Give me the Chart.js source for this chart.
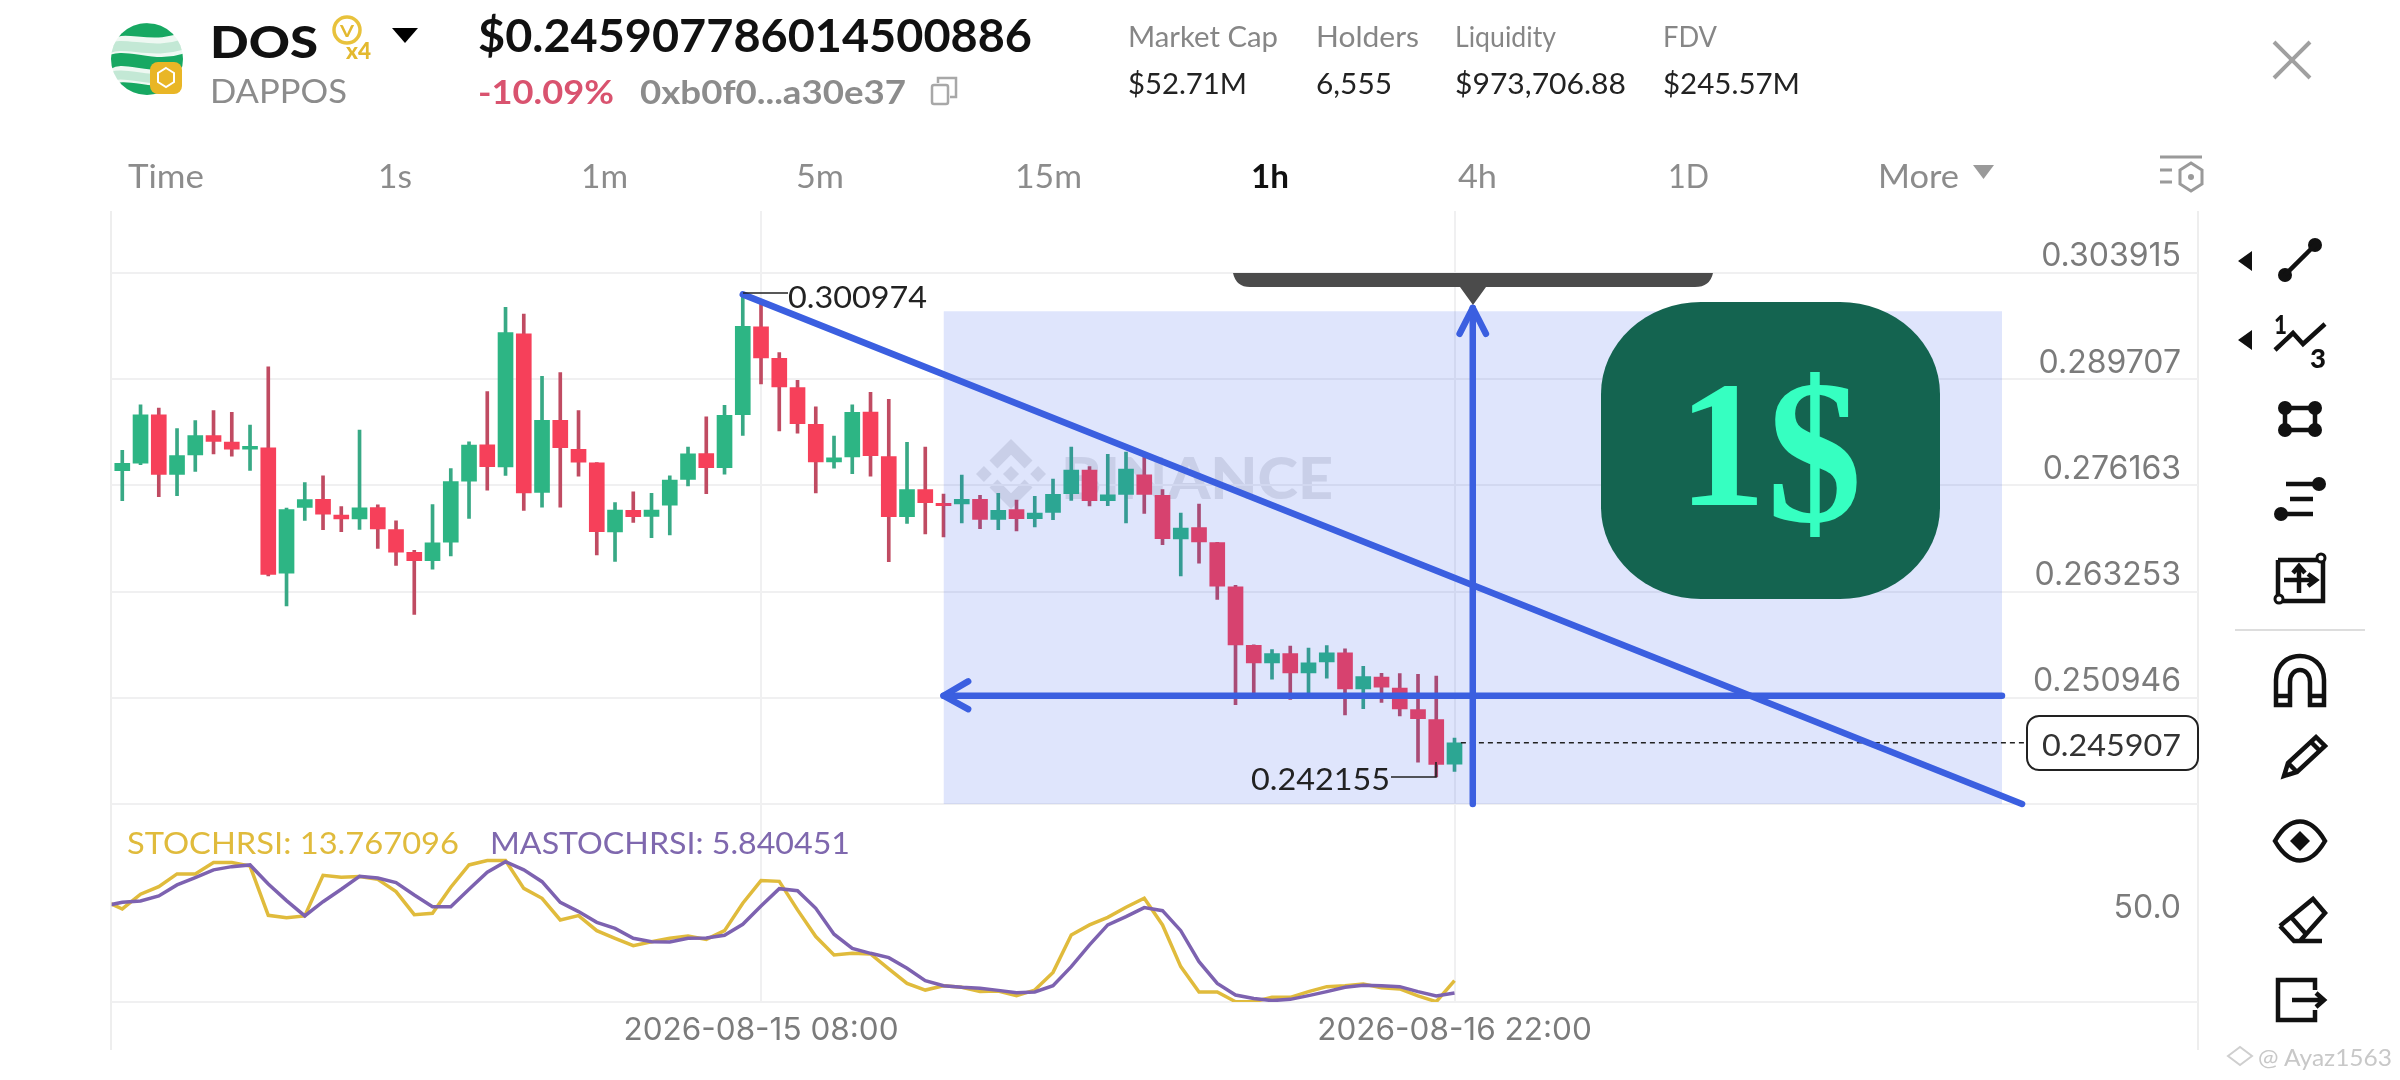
<!DOCTYPE html>
<html>
<head>
<meta charset="utf-8">
<script src="https://cdn.jsdelivr.net/npm/chart.js@4/dist/chart.umd.js"></script>
<style>
html,body{margin:0;padding:0;background:#fff;width:2400px;height:1080px;overflow:hidden}
#under,#over{position:absolute;left:0;top:0;width:2400px;height:1080px}
#under{z-index:0}#over{z-index:2}
#c{position:absolute;left:0;top:0;z-index:1}
text{font-family:Lato,"Open Sans",sans-serif}
</style>
</head>
<body>
<svg id="under" viewBox="0 0 2400 1080"></svg>
<canvas id="c" width="2400" height="1080"></canvas>
<svg id="over" viewBox="0 0 2400 1080"></svg>
<script>
const categories = [
"2026-08-13 21:00","2026-08-13 22:00","2026-08-13 23:00","2026-08-14 00:00","2026-08-14 01:00","2026-08-14 02:00","2026-08-14 03:00","2026-08-14 04:00","2026-08-14 05:00","2026-08-14 06:00",
"2026-08-14 07:00","2026-08-14 08:00","2026-08-14 09:00","2026-08-14 10:00","2026-08-14 11:00","2026-08-14 12:00","2026-08-14 13:00","2026-08-14 14:00","2026-08-14 15:00","2026-08-14 16:00",
"2026-08-14 17:00","2026-08-14 18:00","2026-08-14 19:00","2026-08-14 20:00","2026-08-14 21:00","2026-08-14 22:00","2026-08-14 23:00","2026-08-15 00:00","2026-08-15 01:00","2026-08-15 02:00",
"2026-08-15 03:00","2026-08-15 04:00","2026-08-15 05:00","2026-08-15 06:00","2026-08-15 07:00","2026-08-15 08:00","2026-08-15 09:00","2026-08-15 10:00","2026-08-15 11:00","2026-08-15 12:00",
"2026-08-15 13:00","2026-08-15 14:00","2026-08-15 15:00","2026-08-15 16:00","2026-08-15 17:00","2026-08-15 18:00","2026-08-15 19:00","2026-08-15 20:00","2026-08-15 21:00","2026-08-15 22:00",
"2026-08-15 23:00","2026-08-16 00:00","2026-08-16 01:00","2026-08-16 02:00","2026-08-16 03:00","2026-08-16 04:00","2026-08-16 05:00","2026-08-16 06:00","2026-08-16 07:00","2026-08-16 08:00",
"2026-08-16 09:00","2026-08-16 10:00","2026-08-16 11:00","2026-08-16 12:00","2026-08-16 13:00","2026-08-16 14:00","2026-08-16 15:00","2026-08-16 16:00","2026-08-16 17:00","2026-08-16 18:00",
"2026-08-16 19:00","2026-08-16 20:00","2026-08-16 21:00","2026-08-16 22:00"];

const opens = [.27799,.27892,.28508,.27752,.27998,.28241,.28160,.28071,.28088,.26544,
.27341,.27442,.27248,.27200,.27341,.27070,.26795,.26694,.26916,.27667,
.28126,.27846,.29568,.27527,.28436,.28066,.27896,.27042,.27305,.27232,
.27370,.27689,.28015,.27837,.28508,.29661,.29242,.28860,.28385,.27909,
.27973,.28542,.27977,.27228,.27564,.27394,.27386,.27442,.27195,.27317,
.27203,.27280,.27511,.27807,.27426,.27503,.27748,.27491,.26957,.27094,
.26912,.26382,.25696,.25492,.25600,.25376,.25504,.25608,.25195,.25330,
.25203,.24962,.24848,.24356];
const closes = [.27892,.28508,.27752,.27990,.28241,.28168,.28071,.28105,.26528,.27317,
.27438,.27260,.27200,.27337,.27078,.26795,.26694,.26908,.27663,.28122,
.27850,.29585,.27523,.28436,.28088,.27905,.27046,.27309,.27228,.27309,
.27680,.28011,.27837,.28500,.29666,.29247,.28869,.28393,.27909,.27960,
.28538,.27986,.27228,.27564,.27402,.27365,.27442,.27195,.27305,.27203,
.27272,.27503,.27807,.27426,.27499,.27820,.27503,.26961,.27090,.26920,
.26390,.25700,.25492,.25600,.25376,.25492,.25608,.25195,.25334,.25214,
.24970,.24859,.24352,.24591];
const highs = [.28054,.28635,.28593,.28330,.28432,.28563,.28538,.28376,.29131,.27333,
.27650,.27735,.27353,.28313,.27374,.27179,.26819,.27378,.27824,.28164,
.28809,.29924,.29830,.29006,.29055,.28563,.27901,.27402,.27535,.27515,
.27735,.28096,.28483,.28631,.300974,.30000,.29318,.28954,.28610,.28236,
.28635,.28797,.28708,.28156,.28096,.27507,.27744,.27491,.27515,.27434,
.27479,.27693,.28096,.27850,.28003,.28032,.27998,.27564,.27272,.27382,
.26916,.26398,.25700,.25646,.25685,.25662,.25693,.25654,.25453,.25372,
.25369,.25361,.25342,.24642];
const lows = [.27426,.27875,.27475,.27487,.27790,.28011,.27982,.27803,.26511,.26155,
.27183,.27070,.27046,.27074,.26843,.26637,.26055,.26592,.26750,.27208,
.27556,.27739,.27305,.27345,.27345,.27731,.26762,.26686,.27159,.26973,
.27005,.27608,.27511,.27756,.28245,.28907,.28300,.28274,.27523,.27829,
.27761,.27731,.26681,.27147,.27017,.26981,.27151,.27082,.27070,.27054,
.27102,.27191,.27430,.27361,.27365,.27151,.27268,.26888,.26511,.26665,
.26233,.25017,.25145,.25307,.25076,.25137,.25318,.24900,.24973,.25043,
.24889,.24378,.242155,.24275];
// first value of each oscillator belongs to the bar just left of the visible window
const stochRsi = [65.4,60.0,69.5,74.4,82.6,82.6,89.9,89.9,87.7,55.9,54.4,55.5,81.7,80.4,80.9,79.1,71.2,56.3,57.2,74.0,88.4,91.2,91.2,73.3,66.9,52.9,55.7,46.0,41.1,36.3,38.9,41.1,42.6,40.4,46.0,63.7,78.3,77.8,
59.4,42.2,30.3,31.4,31.0,21.3,12.0,7.7,10.5,9.5,6.7,7.1,4.1,7.7,19.1,43.2,49.7,54.6,61.1,66.9,49.7,22.8,6.5,6.5,0.2,0.2,3.0,3.0,6.7,9.9,10.5,11.6,9.2,8.4,3.9,0.2,13.767096];
const maStochRsi = [61.9,64.3,65.2,68.4,75.5,80.2,85.2,87.3,88.4,76.1,65.4,55.5,64.7,72.7,81.1,80.0,77.0,69.0,61.5,61.5,72.7,83.7,90.5,85.2,77.6,64.3,58.3,51.4,47.5,41.1,38.9,38.7,41.1,41.3,43.0,50.1,61.9,73.1,
71.8,60.4,43.7,34.6,31.4,28.6,21.7,13.8,10.5,9.5,8.8,7.5,6.0,6.5,10.5,22.8,36.8,49.7,55.1,60.9,58.9,46.0,26.0,12.0,4.5,2.2,0.9,1.7,4.1,6.7,9.5,10.8,10.5,9.9,6.7,3.9,5.840451];

const priceTicks = [.239215,.250946,.263253,.276163,.289707,.303915];
const priceTickLabels = ["","0.250946","0.263253","0.276163","0.289707","0.303915"];
const oscTicks = [0,50];
const oscTickLabels = ["","50.0"];
const timeTicks = [35,73];

// chart drawings, in bar-index / price coordinates
const lastPrice = .245907;
const trendX = [34,104.1], trendY = [.300974,.239215];
const levelX = [45,103], levelY = [.25118,.25118];
const riseX = [74,74], riseY = [.29915,.239215];
const zoneX = [45,103], zoneTop = [.2987,.2987], zoneBottom = .239215;
const levelHeadX = [46.35,45,46.35], levelHeadY = [.2528,.25118,.24966];
const riseHeadX = [73.28,74,74.72], riseHeadY = [.29568,.29915,.29568];
const lastX = [73.35,104.35];

const UP="#2db584", DOWN="#f6405a", UPW="#38a985", DOWNW="#c04b62", BLUE="#3b5fe0", GRID="#f0f0f1", AXTXT="#7b7b7b";
const upFlags = closes.map((c,i)=>c>=opens[i]);
const line = (xs,ys,extra)=>Object.assign({type:"line",data:xs.map((x,i)=>({x,y:ys[i]})),pointRadius:0,borderColor:BLUE,borderWidth:6.5,borderCapStyle:"round",borderJoinStyle:"round",tension:0,fill:false,clip:false,yAxisID:"y"},extra||{});

new Chart(document.getElementById("c"),{
  type:"bar",
  data:{labels:categories,datasets:[
    {label:"wick",data:highs.map((h,i)=>({x:i,y:[lows[i],h]})),backgroundColor:upFlags.map(u=>u?UPW:DOWNW),barThickness:3,grouped:false,order:20,yAxisID:"y"},
    {label:"body",data:opens.map((o,i)=>({x:i,y:[o,closes[i]]})),backgroundColor:upFlags.map(u=>u?UP:DOWN),barThickness:15,grouped:false,order:19,yAxisID:"y"},
    line(zoneX,zoneTop,{label:"zone",borderWidth:0,fill:{value:zoneBottom},backgroundColor:"rgba(42,82,235,0.15)",order:15}),
    line(lastX,[lastPrice,lastPrice],{label:"last",borderColor:"#222",borderWidth:1.5,borderDash:[5,4],borderCapStyle:"butt",order:12}),
    line(trendX,trendY,{label:"trend",order:10}),
    line(levelX,levelY,{label:"level",order:9}),
    line(riseX,riseY,{label:"rise",order:8,borderCapStyle:"butt"}),
    line(levelHeadX,levelHeadY,{label:"levelHead",order:7}),
    line(riseHeadX,riseHeadY,{label:"riseHead",order:6}),
    {type:"line",label:"STOCHRSI",data:stochRsi.map((v,i)=>({x:i-1,y:v})),borderColor:"#e0bb3c",borderWidth:3.5,pointRadius:0,tension:0,yAxisID:"y2",order:3},
    {type:"line",label:"MASTOCHRSI",data:maStochRsi.map((v,i)=>({x:i-1,y:v})),borderColor:"#7d62b0",borderWidth:3.5,pointRadius:0,tension:0,yAxisID:"y2",order:2}
  ]},
  options:{
    responsive:false,devicePixelRatio:1,animation:false,
    layout:{padding:{left:111.7,right:202,top:211,bottom:0}},
    plugins:{legend:{display:false},tooltip:{enabled:false}},
    scales:{
      x:{type:"linear",position:"bottom",min:-0.58,max:113.74,offset:false,bounds:"data",
        grid:{color:GRID,lineWidth:2,offset:false,drawTicks:false},border:{display:false},
        afterBuildTicks:s=>{s.ticks=timeTicks.map(v=>({value:v}))},
        afterFit:s=>{s.height=78},
        ticks:{autoSkip:false,maxRotation:0,padding:10,color:AXTXT,font:{family:"Inter",size:31.5},callback:v=>categories[v]}},
      y:{type:"logarithmic",position:"right",stack:"panes",stackWeight:593,weight:1,min:.239215,max:.3125,bounds:"data",
        grid:{color:GRID,lineWidth:2,drawTicks:false},border:{display:false},
        afterBuildTicks:s=>{s.ticks=priceTicks.map(v=>({value:v}))},
        afterFit:s=>{s.width=0},
        ticks:{autoSkip:false,mirror:true,padding:-17,labelOffset:-16,color:AXTXT,font:{family:"Inter",size:32},callback:v=>priceTickLabels[priceTicks.indexOf(v)]}},
      y2:{type:"linear",position:"right",stack:"panes",stackWeight:198,weight:2,min:0,max:127.7,bounds:"data",
        grid:{color:c=>c.tick&&c.tick.value===50?"rgba(0,0,0,0)":GRID,lineWidth:2,drawTicks:false},border:{display:false},
        afterBuildTicks:s=>{s.ticks=oscTicks.map(v=>({value:v}))},
        afterFit:s=>{s.width=0},
        ticks:{autoSkip:false,mirror:true,padding:-17,labelOffset:-16,color:AXTXT,font:{family:"Inter",size:32},callback:v=>oscTickLabels[oscTicks.indexOf(v)]}}
    }
  }
});

// interface chrome around the chart
function esc(s){return s.replace(/&/g,"&amp;").replace(/</g,"&lt;")}
function T(s,x,y,size,color,weight,w){return `<text x="${x}" y="${y}" dominant-baseline="central" font-size="${size}" fill="${color}" font-weight="${weight}" textLength="${w}" lengthAdjust="spacingAndGlyphs">${esc(s)}</text>`}
const G="#8c8c8c", K="#111";
let o="";
let u=`<line x1="111" y1="211" x2="111" y2="1050" stroke="#eee" stroke-width="2"/><line x1="2198" y1="211" x2="2198" y2="1050" stroke="#eee" stroke-width="2"/>`;
u+=`<g transform="translate(976,439) scale(.553)" fill="#e6e6e8"><path d="M38.73 53.2L63.3 28.64l24.58 24.58 14.29-14.3L63.3 0 24.44 38.86z M0 63.31l14.29-14.3 14.3 14.3-14.3 14.29z M38.73 73.41L63.3 97.97l24.58-24.57 14.3 14.28-38.87 38.88-38.87-38.85-.02-.02z M98.03 63.31l14.3-14.3 14.28 14.3-14.29 14.29z M77.8 63.3L63.3 48.8 52.58 59.51l-1.23 1.24-2.54 2.54 14.49 14.5 14.5-14.5z"/></g>`;
u+=T("BINANCE",1061,476,58,"#e6e6e8",900,272);
document.getElementById("under").innerHTML=u;

// token logo: banded globe with chain badge
o+=`<defs><clipPath id="gl"><circle cx="147" cy="59" r="36"/></clipPath></defs><g clip-path="url(#gl)" fill="none"><rect x="105" y="20" width="90" height="80" fill="#eef8f2"/>
<path d="M105 36C125 18 150 42 190 22" stroke="#17a862" stroke-width="14"/>
<path d="M105 50C125 38 150 58 190 42" stroke="#c3e8d5" stroke-width="10"/>
<path d="M105 65C125 49 150 74 190 58" stroke="#17a862" stroke-width="13"/>
<path d="M105 79C125 67 150 87 190 75" stroke="#c3e8d5" stroke-width="9"/>
<path d="M108 93C125 79 150 99 190 89" stroke="#17a862" stroke-width="11"/></g>`;
o+=`<rect x="150" y="62" width="32" height="32" rx="8" fill="#e9b626"/><path d="M166 68l8 5v9l-8 5-8-5v-9z" fill="none" stroke="#fff" stroke-width="2"/>`;
o+=T("DOS",210,41,44,K,900,108)+T("DAPPOS",210,90,33,G,400,137);
o+=`<circle cx="347" cy="30" r="13" fill="none" stroke="#e8c23c" stroke-width="3.5"/>`+T("V",340,30,17,"#e3b92f",700,14)+T("x4",346,50,22,"#e3b92f",900,25);
o+=`<path d="M392 28H418L405 43Z" fill="#000"/>`;
o+=T("$0.245907786014500886",478,35,45,K,700,554);
o+=T("-10.09%",478,91,33,"#d9536f",700,136)+T("0xb0f0...a30e37",640,91,33,G,700,266);
o+=`<rect x="932" y="85" width="16" height="19" rx="2" fill="none" stroke="#a8a8a8" stroke-width="2.5"/><path d="M938 83V78H956V97H950" fill="none" stroke="#a8a8a8" stroke-width="2.5"/>`;
[["Market Cap",1128,150,"$52.71M",119],["Holders",1316,103,"6,555",76],["Liquidity",1455,101,"$973,706.88",171],["FDV",1663,54,"$245.57M",137]].forEach(m=>{
  o+=T(m[0],m[1],36,28,"#868686",400,m[2])+T(m[3],m[1],83,28,"#222",400,m[4]);
});
o+=`<path d="M2274 42L2310 78M2310 42L2274 78" stroke="#a0a0a0" stroke-width="4" fill="none"/>`;
[["Time",128,76],["1s",378,34],["1m",581,47],["5m",796,48],["15m",1015,67],["4h",1458,39],["1D",1668,41],["More",1878,81]].forEach(t=>{o+=T(t[0],t[1],175,33,G,400,t[2])});
o+=T("1h",1251,175,33,K,700,38);
o+=`<path d="M1973 165H1994L1983.500 179Z" fill="#9a9a9a"/>`;
o+=`<g stroke="#9a9a9a" stroke-width="3" fill="none"><path d="M2160 157H2202"/><path d="M2160 170H2172M2160 182H2172"/><path d="M2191 163L2202 170V184L2191 191L2180 184V170Z"/></g><circle cx="2191" cy="177" r="3" fill="#9a9a9a"/>`;
o+=`<path d="M1233 273H1713Q1710 287 1695 287H1486L1473 305L1460 287H1250Q1236 287 1233 273Z" fill="#4b4b4b"/>`;
o+=`<rect x="1601" y="302" width="339" height="297" rx="100" ry="92" fill="#146450"/>`;
o+=`<text x="1678" y="505" font-size="180" font-weight="700" fill="#36ffc1" style="font-family:'Liberation Serif'" textLength="88" lengthAdjust="spacingAndGlyphs">1</text>`;
o+=`<text x="1767" y="521" font-size="205" font-weight="700" fill="#36ffc1" style="font-family:'Liberation Serif'" textLength="95" lengthAdjust="spacingAndGlyphs">$</text>`;
o+=`<path d="M743 293H788M1391 777H1436V762" stroke="#222" stroke-width="1.6" fill="none"/>`;
o+=T("0.300974",788,296,30,"#222",400,139)+T("0.242155",1251,778,30,"#222",400,139);
o+=`<rect x="2027" y="716" width="171" height="54" rx="12" fill="#fff" stroke="#222" stroke-width="2"/>`+T("0.245907",2042,744,30,"#333",400,139);
o+=T("STOCHRSI: 13.767096",127,842,30,"#e0bb3c",400,332)+T("MASTOCHRSI: 5.840451",490,842,30,"#7f68ae",400,360);
const B="#111";
o+=`<g fill="${B}"><path d="M2238 261l14-10v20zM2238 340l14-10v20z"/>
<circle cx="2285" cy="275" r="7"/><circle cx="2315" cy="245" r="7"/>
<circle cx="2285" cy="408" r="7"/><circle cx="2315" cy="408" r="7"/><circle cx="2285" cy="430" r="7"/><circle cx="2315" cy="430" r="7"/>
<circle cx="2319" cy="484" r="7"/><circle cx="2281" cy="514" r="7"/><path d="M2300 831l10 10-10 10-10-10z"/></g>`;
o+=`<g stroke="${B}" stroke-width="4.500" fill="none"><path d="M2285 275L2315 245"/>
<path d="M2275 350L2293 333L2303 344L2325 324"/>
<path d="M2285 408H2315M2285 430H2315M2285 408V430M2315 408V430"/>
<path d="M2286 484H2313M2290 499H2313M2284 514H2313"/>
<path d="M2278 560V601H2323V560H2278"/><path d="M2284 580H2314M2308 574L2316 580L2308 586M2299 593V568M2293 573L2299 566L2305 573"/>
<path d="M2276 705V680C2276 648 2324 648 2324 680V705H2310V682C2310 666 2290 666 2290 682V705ZM2276 696H2290M2310 696H2324"/>
<path d="M2284 776L2288 763L2316 737L2325 746L2297 772ZM2311 742L2320 751M2288 763L2297 772"/>
<path d="M2275 841C2290 815 2310 815 2325 841C2310 867 2290 867 2275 841Z"/>
<path d="M2280 926L2313 899L2325 913L2300 941H2322M2300 941H2294L2280 926M2291 917L2306 934"/>
<path d="M2315 990V980H2278V1020H2315V1010M2292 1000H2323M2316 993L2324 1000L2316 1007"/></g>`;
o+=`<circle cx="2321" cy="558" r="4" fill="#fff" stroke="${B}" stroke-width="3"/><circle cx="2279" cy="599" r="4" fill="#fff" stroke="${B}" stroke-width="3"/>`;
o+=`<path d="M2235 630H2365" stroke="#ddd" stroke-width="2"/>`;
o+=T("1",2274,323,27,B,900,13)+T("3",2310,357,27,B,900,16);
o+=`<path d="M2228 1056l12-9 12 9-12 9z" fill="none" stroke="#cfcfcf" stroke-width="2"/>`+T("@ Ayaz1563",2258,1056,24,"#c8c8c8",400,134);
document.getElementById("over").innerHTML=o;
</script>
</body>
</html>
